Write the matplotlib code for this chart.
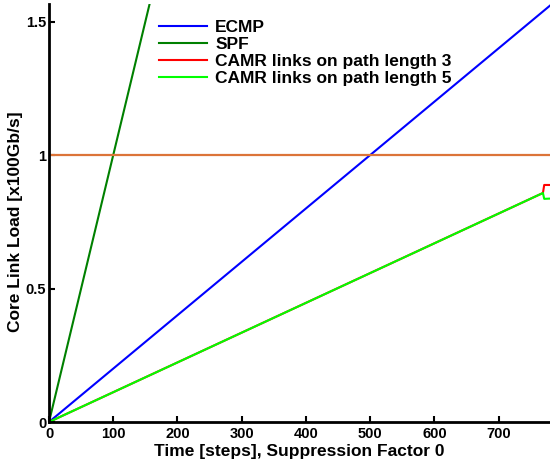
import matplotlib
matplotlib.use("Agg")
import matplotlib.pyplot as plt

plt.rcParams['font.family'] = ['Liberation Sans', 'DejaVu Sans']
plt.rcParams['font.weight'] = 'bold'

# Data
ecmp_t = [0, 780]
ecmp_y = [0, 1.56]
spf_t = [0, 160]
spf_y = [0, 1.60]
camr_t = [0, 769, 771, 780]
camr3_y = [0, 0.858, 0.888, 0.888]
camr5_y = [0, 0.858, 0.836, 0.837]
threshold = 1.0

xticks = [0, 100, 200, 300, 400, 500, 600, 700]
yticks = [0, 0.5, 1, 1.5]
yticklabels = ['0', '0.5', '1', '1.5']

fig = plt.figure(figsize=(5.5, 4.65), dpi=100)
ax = fig.add_axes([49/550, 1-422/465, 1-49/550, (422-4)/465])

ax.plot(ecmp_t, ecmp_y, color=(0, 0, 1), lw=1.5, label='ECMP')
ax.plot(spf_t, spf_y, color=(0, 0.5, 0), lw=1.5, label='SPF')
ax.plot(camr_t, camr3_y, color=(1, 0, 0), lw=1.5, label='CAMR links on path length 3')
ax.plot(camr_t, camr5_y, color=(0, 1, 0), lw=1.5, label='CAMR links on path length 5')
ax.axhline(threshold, color='#DC7438', lw=1.6)

ax.set_xlim(0, 780)
ax.set_ylim(0, 1.566)
ax.set_xticks(xticks)
ax.set_yticks(yticks)
ax.set_yticklabels(yticklabels)
ax.tick_params(direction='in', length=4, width=1.5, labelsize=10.5)
ax.tick_params(axis='y', pad=2)
for lbl in ax.get_xticklabels() + ax.get_yticklabels():
    lbl.set_fontweight('bold')
for s in ['top', 'right']:
    ax.spines[s].set_visible(False)
for s in ['left', 'bottom']:
    ax.spines[s].set_linewidth(2)

ax.set_xlabel('Time [steps], Suppression Factor 0', fontsize=12.5, fontweight='bold', labelpad=2)
ax.set_ylabel('Core Link Load [x100Gb/s]', fontsize=12.5, fontweight='bold')
ax.yaxis.set_label_coords(-0.052, 0.48)

leg = ax.legend(loc='upper left', bbox_to_anchor=(0.195, 0.99), frameon=False,
                prop={'size': 12.5, 'weight': 'bold'}, handlelength=2.75,
                handletextpad=0.5, labelspacing=0.1, borderaxespad=0.3)

fig.savefig('out.png', dpi=100)
